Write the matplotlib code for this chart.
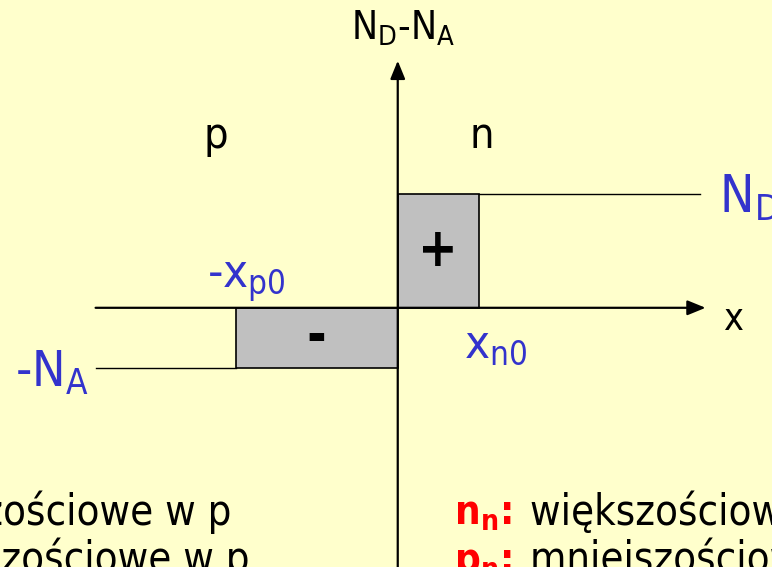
import matplotlib
matplotlib.use('Agg')
import matplotlib.pyplot as plt
from matplotlib.patches import Rectangle

plt.rcParams['font.family'] = ['DejaVu Sans']
plt.rcParams['font.stretch'] = 'condensed'
plt.rcParams['mathtext.default'] = 'regular'

# krawedzie obszaru zubozonego i domieszkowanie (jednostki umowne)
x_p0 = 2.0
x_n0 = 1.0
N_D = 1.4
N_A = 0.74

tlo = '#FFFFCC'
niebieski = '#3333CC'
szary = '#C0C0C0'

fig = plt.figure(figsize=(7.72, 5.67), dpi=100, facecolor=tlo)
ax = fig.add_axes([0, 0, 1, 1])
ax.set_facecolor(tlo)
ax.set_xlim(-4.91, 4.62)
ax.set_ylim(-3.20, 3.80)
ax.axis('off')

# ladunek przestrzenny
ax.add_patch(Rectangle((0, 0), x_n0, N_D, facecolor=szary, edgecolor='black', lw=1.2))
ax.add_patch(Rectangle((-x_p0, -N_A), x_p0, N_A, facecolor=szary, edgecolor='black', lw=1.2))

# poziomy domieszkowania poza obszarem
ax.plot([x_n0, 3.73], [N_D, N_D], color='black', lw=1.0)
ax.plot([-3.73, -x_p0], [-N_A, -N_A], color='black', lw=1.0)

# osie
strzalka = dict(arrowstyle='-|>,head_length=1.1,head_width=0.45', color='black', lw=1.6,
                shrinkA=0, shrinkB=0)
ax.annotate('', xy=(3.80, 0), xytext=(-3.73, 0), arrowprops=strzalka)
ax.annotate('', xy=(0, 3.05), xytext=(0, -3.3), arrowprops=strzalka)

ax.text(0.06, 3.45, '$N_D$-$N_A$', fontsize=28, ha='center', va='center')
ax.text(4.14, -0.27, 'x', fontsize=27, ha='center', va='baseline')
ax.text(-2.25, 2.12, 'p', fontsize=31, ha='center', va='center')
ax.text(1.04, 2.12, 'n', fontsize=31, ha='center', va='center')
ax.text(x_n0 / 2, N_D / 2, '+', fontsize=38, fontweight='bold', ha='center', va='center')
ax.text(-x_p0 / 2, -N_A / 2, '-', fontsize=38, fontweight='bold', ha='center', va='center')

ax.text(3.97, N_D - 0.23, '$N_D$', fontsize=37, color=niebieski, ha='left', va='baseline')
ax.text(-4.72, -N_A - 0.235, '-$N_A$', fontsize=36, color=niebieski, ha='left', va='baseline')
ax.text(-2.35, 0.25, '-$x_{p0}$', fontsize=34, color=niebieski, ha='left', va='baseline')
ax.text(0.82, -0.61, '$x_{n0}$', fontsize=34, color=niebieski, ha='left', va='baseline')

# opis nosnikow
ax.text(-2.05, -2.68, 'większościowe w p', fontsize=30, ha='right', va='baseline')
ax.text(-1.83, -3.26, 'mniejszościowe w p', fontsize=30, ha='right', va='baseline')
ax.text(0.70, -2.68, '$\\mathbf{n_n}$:', fontsize=29, color='red', fontweight='bold',
        ha='left', va='baseline')
ax.text(1.63, -2.68, 'większościowe w n', fontsize=30, ha='left', va='baseline')
ax.text(0.70, -3.26, '$\\mathbf{p_n}$:', fontsize=29, color='red', fontweight='bold',
        ha='left', va='baseline')
ax.text(1.63, -3.26, 'mniejszościowe w n', fontsize=30, ha='left', va='baseline')

fig.savefig('out.png', dpi=100, facecolor=tlo)
